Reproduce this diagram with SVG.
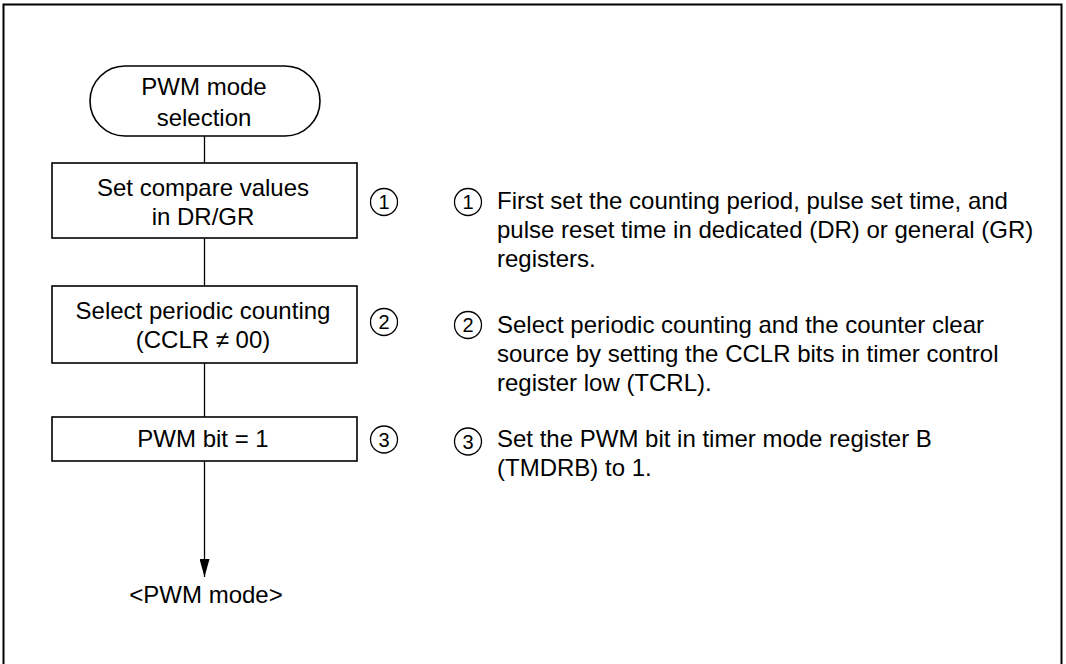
<svg xmlns="http://www.w3.org/2000/svg" width="1066" height="664" viewBox="0 0 1066 664">
<defs>
<style>
text{font-family:"Liberation Sans",Arial,sans-serif;font-size:24px;fill:#000}
.c{text-anchor:middle}
.n{font-size:20px;text-anchor:middle}
.box{fill:#fff;stroke:#000;stroke-width:1.6}
.ln{stroke:#000;stroke-width:1.3;fill:none}
.cir{fill:none;stroke:#000;stroke-width:1.3}
</style>
<marker id="ah" viewBox="0 0 18 10" refX="18" refY="5" markerWidth="18" markerHeight="10" markerUnits="userSpaceOnUse" orient="auto">
<path d="M0,0 L18,5 L0,10 Z" fill="#000"/>
</marker>
</defs>
<rect x="0" y="0" width="1066" height="664" fill="#fff"/>
<rect x="3.5" y="4.5" width="1058" height="680" fill="none" stroke="#000" stroke-width="2"/>
<g id="connectors">
<line class="ln" x1="204.5" y1="136" x2="204.5" y2="163"/>
<line class="ln" x1="204.5" y1="238" x2="204.5" y2="286"/>
<line class="ln" x1="204.5" y1="363" x2="204.5" y2="417"/>
<line class="ln" x1="204.5" y1="461" x2="204.5" y2="577" marker-end="url(#ah)"/>
</g>
<g id="start">
<rect class="box" x="90" y="66" width="230" height="70" rx="35" ry="35"/>
<text class="c" x="204" y="95">PWM mode</text>
<text class="c" x="204" y="126">selection</text>
</g>
<g id="step1">
<rect class="box" x="52" y="163" width="305" height="75"/>
<text class="c" x="203" y="196">Set compare values</text>
<text class="c" x="203" y="225">in DR/GR</text>
<circle class="cir" cx="384" cy="202" r="13.5"/>
<text class="n" x="384" y="209">1</text>
</g>
<g id="step2">
<rect class="box" x="52" y="286" width="305" height="77"/>
<text class="c" x="203" y="319">Select periodic counting</text>
<text class="c" x="203" y="348">(CCLR ≠ 00)</text>
<circle class="cir" cx="384" cy="322" r="13.5"/>
<text class="n" x="384" y="329">2</text>
</g>
<g id="step3">
<rect class="box" x="52" y="417" width="305" height="44"/>
<text class="c" x="203" y="447">PWM bit = 1</text>
<circle class="cir" cx="384" cy="439.5" r="13.5"/>
<text class="n" x="384" y="446.5">3</text>
</g>
<g id="end">
<text class="c" x="206" y="603">&lt;PWM mode&gt;</text>
</g>
<g id="notes">
<circle class="cir" cx="468" cy="202" r="13.5"/>
<text class="n" x="468" y="209">1</text>
<text x="497" y="209">First set the counting period, pulse set time, and</text>
<text x="497" y="238">pulse reset time in dedicated (DR) or general (GR)</text>
<text x="497" y="267">registers.</text>
<circle class="cir" cx="468" cy="325" r="13.5"/>
<text class="n" x="468" y="332">2</text>
<text x="497" y="333">Select periodic counting and the counter clear</text>
<text x="497" y="362">source by setting the CCLR bits in timer control</text>
<text x="497" y="391">register low (TCRL).</text>
<circle class="cir" cx="468" cy="441.5" r="13.5"/>
<text class="n" x="468" y="448.5">3</text>
<text x="497" y="447">Set the PWM bit in timer mode register B</text>
<text x="497" y="476">(TMDRB) to 1.</text>
</g>
</svg>
